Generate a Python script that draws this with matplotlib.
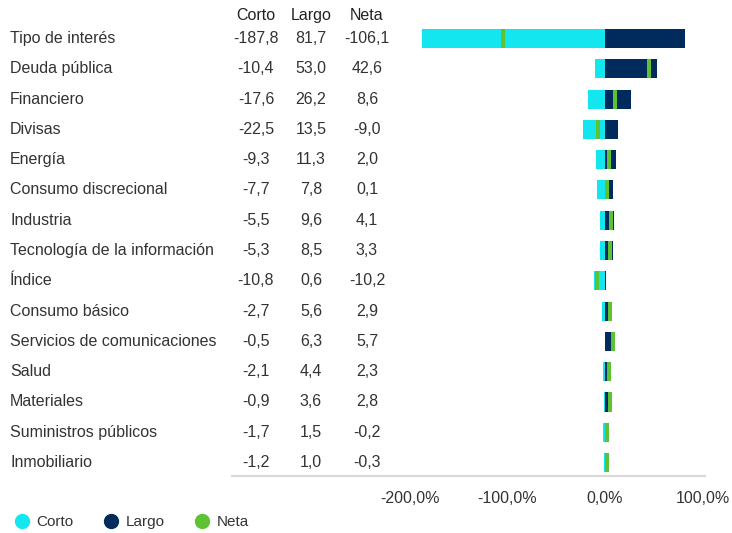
import matplotlib
matplotlib.use("Agg")
import matplotlib.pyplot as plt
import matplotlib.transforms as mtrans
from matplotlib.lines import Line2D

plt.rcParams['font.family'] = ['Liberation Sans', 'DejaVu Sans']

categorias = ["Tipo de interés", "Deuda pública", "Financiero", "Divisas", "Energía",
              "Consumo discrecional", "Industria", "Tecnología de la información",
              "Índice", "Consumo básico", "Servicios de comunicaciones", "Salud",
              "Materiales", "Suministros públicos", "Inmobiliario"]
corto = [-187.8, -10.4, -17.6, -22.5, -9.3, -7.7, -5.5, -5.3, -10.8, -2.7, -0.5, -2.1, -0.9, -1.7, -1.2]
largo = [81.7, 53.0, 26.2, 13.5, 11.3, 7.8, 9.6, 8.5, 0.6, 5.6, 6.3, 4.4, 3.6, 1.5, 1.0]
neta = [-106.1, 42.6, 8.6, -9.0, 2.0, 0.1, 4.1, 3.3, -10.2, 2.9, 5.7, 2.3, 2.8, -0.2, -0.3]
ticks = [-200, -100, 0, 100]

C_CORTO = "#14E6F0"
C_LARGO = "#002B5C"
C_NETA = "#5DC332"
TXT = "#333333"
FS = 11.5

W, H = 732, 533
fig = plt.figure(figsize=(W/100, H/100), dpi=100)

# bar axes placed in pixel terms
px0, scale = 605, 0.9767
ax_l, ax_r = 400, 705
ax_top, ax_bot = 23, 476
row0, step = 38.5, 30.29
ax = fig.add_axes([ax_l/W, (H-ax_bot)/H, (ax_r-ax_l)/W, (ax_bot-ax_top)/H])
ax.set_xlim((ax_l-px0)/scale, (ax_r-px0)/scale)
ax.set_ylim((ax_bot-row0)/step, (ax_top-row0)/step)

y = list(range(len(categorias)))
bh = 0.63
ax.barh(y, corto, height=bh, color=C_CORTO, label="Corto")
ax.barh(y, largo, height=bh, color=C_LARGO, label="Largo")
ax.barh(y, [4.1]*len(neta), left=neta, height=bh, color=C_NETA, label="Neta")

for s in ax.spines.values():
    s.set_visible(False)
ax.set_yticks([])
ax.set_xticks(ticks)
ax.set_xticklabels([f"{t:.1f}%".replace(".", ",") for t in ticks], fontsize=FS, color=TXT)
ax.tick_params(axis="x", length=0, pad=11)

# bottom rule under table and chart
fig.add_artist(Line2D([232/W, 705/W], [(H-476)/H]*2, color="#d9d9d9", lw=1.5))

# table on the left
tr = mtrans.blended_transform_factory(fig.transFigure, ax.transData)
cols = [("Corto", corto, 256), ("Largo", largo, 311), ("Neta", neta, 367)]
for i, c in enumerate(categorias):
    ax.text(10/W, i, c, transform=tr, ha="left", va="center", fontsize=FS, color=TXT)
for name, vals, cx in cols:
    ax.text(cx/W, -0.76, name, transform=tr, ha="center", va="center", fontsize=FS, color="#222222")
    for i, v in enumerate(vals):
        ax.text(cx/W, i, f"{v:.1f}".replace(".", ","), transform=tr, ha="center", va="center",
                fontsize=FS, color=TXT)

# legend
handles = [Line2D([], [], marker="o", ls="", ms=10, color=c, label=l)
           for c, l in [(C_CORTO, "Corto"), (C_LARGO, "Largo"), (C_NETA, "Neta")]]
fig.legend(handles=handles, loc="center left", bbox_to_anchor=(-1/W, (H-522)/H), ncol=3,
           frameon=False, fontsize=11, handletextpad=0.3, columnspacing=1.85,
           labelcolor=TXT, handlelength=1.25)

fig.savefig("out.png", dpi=100)
